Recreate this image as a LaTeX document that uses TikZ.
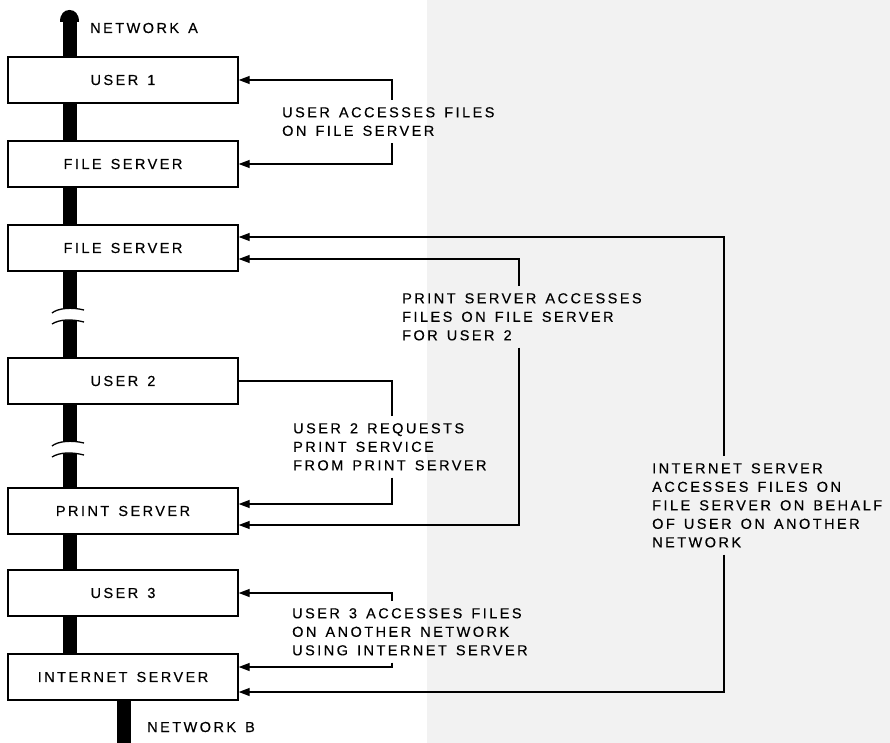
\documentclass[tikz,border=0pt]{standalone}
\usepackage{fontspec}
\setmainfont{Liberation Sans}[LetterSpace=17, WordSpace=1.4, FakeBold=0.4]
\usetikzlibrary{arrows.meta,backgrounds}

\tikzset{
  box/.style={draw, line width=1.4pt, fill=white, minimum width=230pt, minimum height=46pt, inner sep=0pt},
  note/.style={anchor=north west, align=left, inner xsep=0pt, inner ysep=7pt},
  link/.style={line width=1.3pt, -{Triangle[length=11pt,width=8pt]}},
  wire/.style={line width=1.3pt},
  bus/.style={line width=14pt},
}

\begin{document}
\begin{tikzpicture}[x=1pt, y=-1pt, font=\fontsize{14.5pt}{18.5pt}\selectfont]
\clip (0,0) rectangle (890,743);

% the stations on network A
\node[box] (user1) at (123,80) {USER 1};
\node[box] (fs1) at (123,164) {FILE SERVER};
\node[box] (fs2) at (123,248) {FILE SERVER};
\node[box] (user2) at (123,381) {USER 2};
\node[box] (print) at (123,511) {PRINT SERVER};
\node[box] (user3) at (123,593) {USER 3};
\node[box] (inet) at (123,677) {INTERNET SERVER};

\node[anchor=west, inner sep=0pt] (netAlbl) at (90,28) {NETWORK A};
\node[anchor=west, inner sep=0pt] (netBlbl) at (147,727) {NETWORK B};

\coordinate (netA) at (69.5,20);
\coordinate (netB) at (124,748);
\coordinate (c1) at (392,0);
\coordinate (c2) at (519,0);
\coordinate (c3) at (724,0);

% notes
\node[note] (lbl1) at (282,100) {USER ACCESSES FILES\\ON FILE SERVER};
\node[note] (lbl2) at (402,286) {PRINT SERVER ACCESSES\\FILES ON FILE SERVER\\FOR USER 2};
\node[note] (lbl3) at (293,416) {USER 2 REQUESTS\\PRINT SERVICE\\FROM PRINT SERVER};
\node[note] (lbl4) at (292,601) {USER 3 ACCESSES FILES\\ON ANOTHER NETWORK\\USING INTERNET SERVER};
\node[note] (lbl5) at (652,456) {INTERNET SERVER\\ACCESSES FILES ON\\FILE SERVER ON BEHALF\\OF USER ON ANOTHER\\NETWORK};

% the cable
\begin{scope}[on background layer]
\fill[black!5] (427,0) rectangle (890,743);
\draw[bus] (netA |- inet.north) -- (netA);
\fill (60,22) .. controls (60,14) and (64,10) .. (69.5,10) .. controls (75,10) and (79,14) .. (79,22) -- cycle;
\draw[bus] (netB |- inet.south) -- (netB);
\end{scope}

\foreach \y in {310,443}
{
    \fill[white] (52,\y+3) .. controls (58,\y-2) and (72,\y-3) .. (84,\y) -- (84,\y+12) .. controls (72,\y+9) and (60,\y+9) .. (52,\y+14) -- cycle;
    \draw[wire] (52,\y+3) .. controls (58,\y-2) and (72,\y-3) .. (84,\y);
    \draw[wire] (52,\y+14) .. controls (60,\y+9) and (72,\y+9) .. (84,\y+12);
}

% connectors
\draw[link] (lbl1.north -| c1) |- (user1.east);
\draw[link] (lbl1.south -| c1) |- (fs1.east);

\draw[link] (lbl2.north -| c2) |- ([yshift=-11pt]fs2.east);
\draw[link] (lbl2.south -| c2) |- ([yshift=-14pt]print.east);

\draw[wire] (lbl3.north -| c1) |- (user2.east);
\draw[link] (lbl3.south -| c1) |- ([yshift=7pt]print.east);

\draw[link] (lbl4.north -| c1) |- (user3.east);
\draw[link] (lbl4.south -| c1) |- ([yshift=10pt]inet.east);

\draw[link] (lbl5.north -| c3) |- ([yshift=11pt]fs2.east);
\draw[link] (lbl5.south -| c3) |- ([yshift=-15pt]inet.east);

\end{tikzpicture}
\end{document}
